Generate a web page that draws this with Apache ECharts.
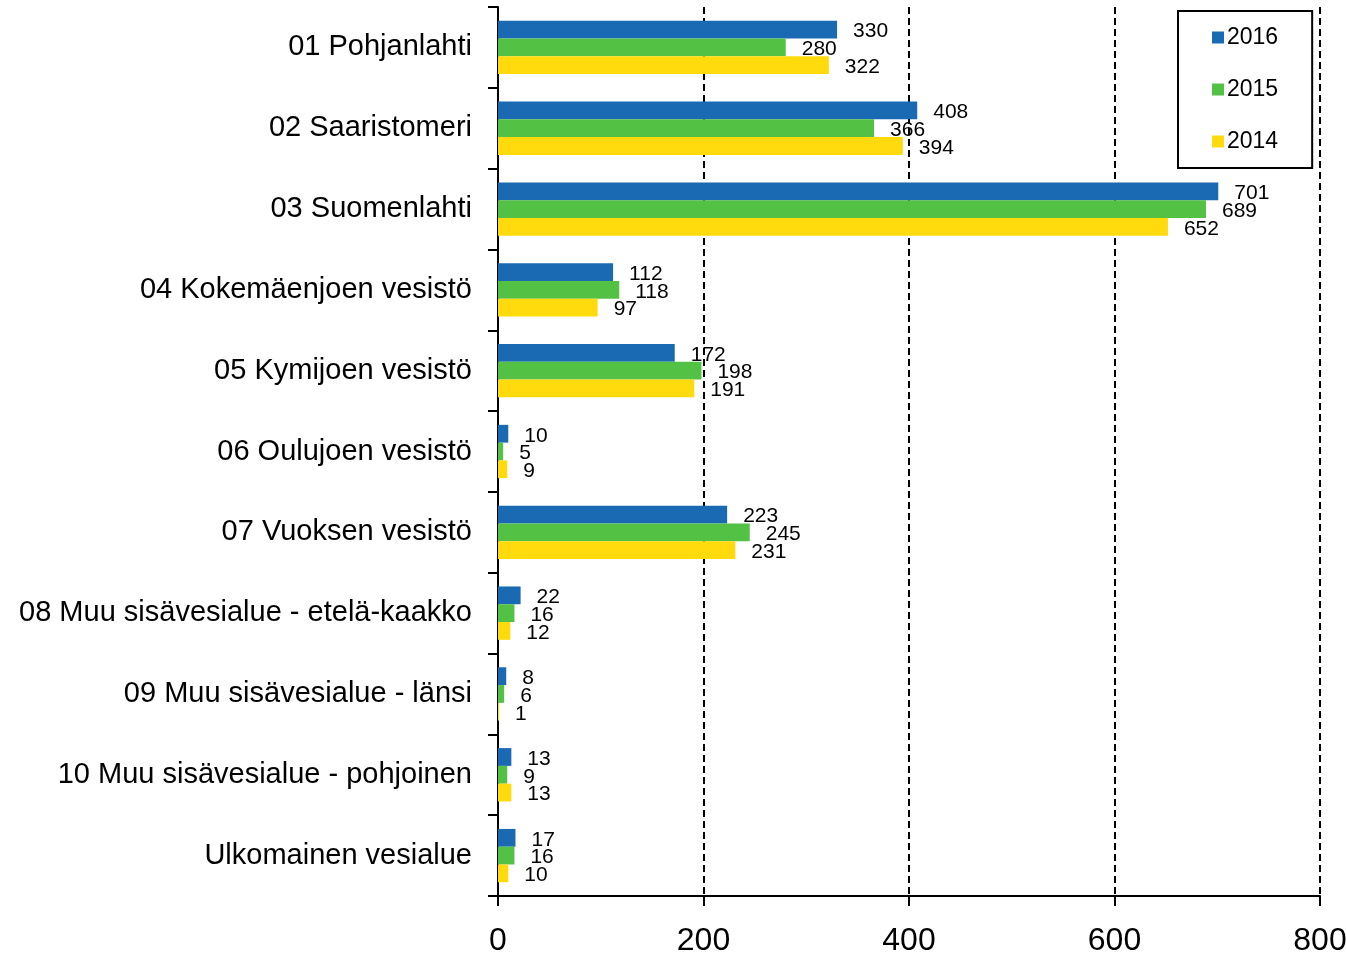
<!DOCTYPE html>
<html>
<head>
<meta charset="utf-8">
<style>
    html, body { margin: 0; padding: 0; background: #fff; overflow: hidden; }
    #chart { width: 1346px; height: 955px; }
</style>
<script src="https://cdn.jsdelivr.net/npm/echarts@6/dist/echarts.min.js"></script>
</head>
<body>
<div id="chart"></div>
<script>
    var categories = [
        '01 Pohjanlahti',
        '02 Saaristomeri',
        '03 Suomenlahti',
        '04 Kokemäenjoen vesistö',
        '05 Kymijoen vesistö',
        '06 Oulujoen vesistö',
        '07 Vuoksen vesistö',
        '08 Muu sisävesialue - etelä-kaakko',
        '09 Muu sisävesialue - länsi',
        '10 Muu sisävesialue - pohjoinen',
        'Ulkomainen vesialue'
    ];
    var years = ['2016', '2015', '2014'];
    var values2016 = [330, 408, 701, 112, 172, 10, 223, 22, 8, 13, 17];
    var values2015 = [280, 366, 689, 118, 198, 5, 245, 16, 6, 9, 16];
    var values2014 = [322, 394, 652, 97, 191, 9, 231, 12, 1, 13, 10];
    var colors = ['#1a69b3', '#53c144', '#ffdb0d'];
    var xTicks = [0, 200, 400, 600, 800];

    var font = '"Liberation Sans", Arial, sans-serif';

    // one bar series per year
    function barSeries(name, data, color) {
        return {
            name: name,
            type: 'bar',
            data: data,
            barGap: '0%',
            barCategoryGap: '34%',
            itemStyle: { color: color },
            label: {
                show: true,
                position: 'right',
                distance: 16,
                offset: [0, 2],
                color: '#000',
                fontFamily: font,
                fontSize: 21
            }
        };
    }

    var myChart = echarts.init(document.getElementById('chart'));
    myChart.setOption({
        animation: false,
        textStyle: { fontFamily: font },
        legend: {
            data: years,
            orient: 'vertical',
            left: 1178,
            top: 11,
            padding: [15, 34],
            itemGap: 29,
            itemWidth: 12,
            itemHeight: 12,
            icon: 'rect',
            borderColor: '#000',
            borderWidth: 2,
            textStyle: { fontFamily: font, fontSize: 23, color: '#000', lineHeight: 22, padding: [0, 0, 0, -2] }
        },
        grid: {
            left: 498,
            right: 26,
            top: 7,
            bottom: 59,
            containLabel: false,
            outerBoundsMode: 'none'
        },
        xAxis: {
            type: 'value',
            min: xTicks[0],
            max: xTicks[xTicks.length - 1],
            interval: 200,
            axisLine: { show: true, lineStyle: { color: '#000', width: 2 } },
            axisTick: { show: true, length: 10, lineStyle: { color: '#000', width: 2 } },
            axisLabel: {
                margin: 29,
                color: '#000',
                fontFamily: font,
                fontSize: 32
            },
            splitLine: {
                show: true,
                lineStyle: { color: '#000', width: 2, type: [7, 4] }
            }
        },
        yAxis: {
            type: 'category',
            data: categories,
            inverse: true,
            axisLine: { show: true, lineStyle: { color: '#000', width: 2 } },
            axisTick: { show: true, length: 10, lineStyle: { color: '#000', width: 2 } },
            axisLabel: {
                margin: 26,
                color: '#000',
                fontFamily: font,
                fontSize: 29,
                padding: [5, 0, 0, 0]
            }
        },
        series: [
            barSeries(years[0], values2016, colors[0]),
            barSeries(years[1], values2015, colors[1]),
            barSeries(years[2], values2014, colors[2])
        ]
    });
</script>
</body>
</html>
